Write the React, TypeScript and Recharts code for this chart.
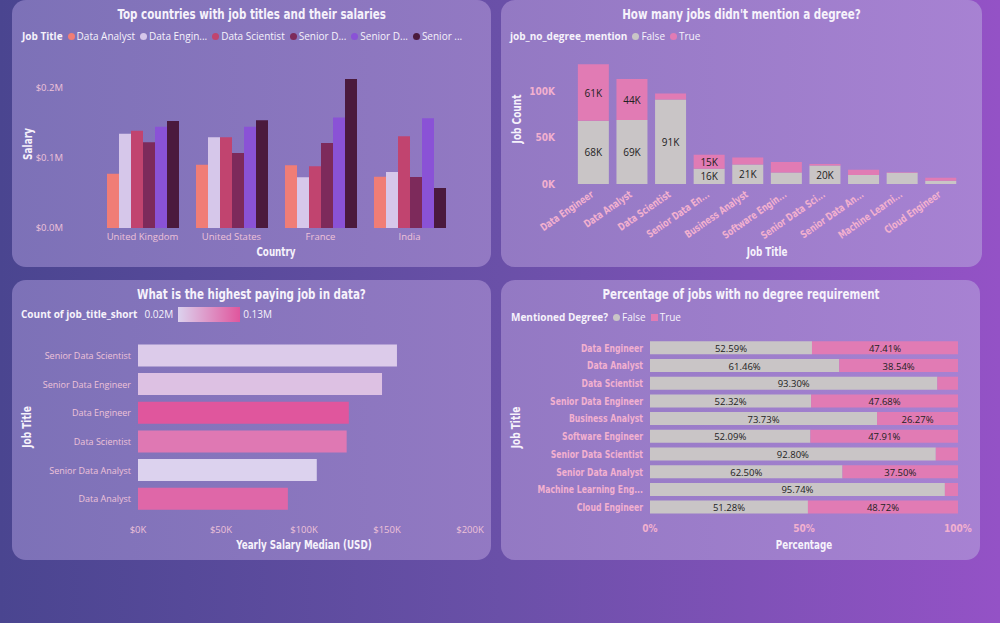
import React from 'react';
import { BarChart, Bar, XAxis, YAxis, Cell, Label, LabelList } from 'recharts';

// ---------- Data: top-left (salary by country & job title) ----------
const countries = ['United Kingdom', 'United States', 'France', 'India'];
const tlJobTitles = ['Data Analyst', 'Data Engineer', 'Data Scientist', 'Senior Data Analyst', 'Senior Data Engineer', 'Senior Data Scientist'];
const tlLegendLabels = ['Data Analyst', 'Data Engin...', 'Data Scientist', 'Senior D...', 'Senior D...', 'Senior ...'];
const salaryDataAnalyst = [77600, 90500, 89500, 73300];
const salaryDataEngineer = [134800, 129500, 72400, 80000];
const salaryDataScientist = [139000, 129500, 88100, 131000];
const salarySeniorDataAnalyst = [122400, 107000, 121400, 72900];
const salarySeniorDataEngineer = [144800, 144800, 158000, 156700];
const salarySeniorDataScientist = [152900, 153800, 212900, 57100];
const tlSalaryTicks = [0, 100000, 200000];

// ---------- Data: top-right (jobs mentioning a degree) ----------
const degreeJobTitles = ['Data Engineer', 'Data Analyst', 'Data Scientist', 'Senior Data Engineer', 'Business Analyst', 'Software Engineer', 'Senior Data Scientist', 'Senior Data Analyst', 'Machine Learning Engineer', 'Cloud Engineer'];
const degreeTickLabels = ['Data Engineer', 'Data Analyst', 'Data Scientist', 'Senior Data En...', 'Business Analyst', 'Software Engin...', 'Senior Data Sci...', 'Senior Data An...', 'Machine Learni...', 'Cloud Engineer'];
const noDegreeFalseCounts = [68000, 69000, 91000, 16400, 21000, 12400, 20000, 9600, 12000, 3500];
const noDegreeTrueCounts = [61000, 44000, 6500, 15000, 7500, 11400, 1550, 5800, 530, 3300];
const jobCountTicks = [0, 50000, 100000];

// ---------- Data: bottom-left (highest paying job) ----------
const payJobTitles = ['Senior Data Scientist', 'Senior Data Engineer', 'Data Engineer', 'Data Scientist', 'Senior Data Analyst', 'Data Analyst'];
const payMedianSalary = [156000, 147000, 127000, 125700, 107700, 90300];
const payJobCounts = [21500, 31400, 129000, 97500, 15400, 113000];
const payTicks = [0, 50000, 100000, 150000, 200000];
const payLegendMin = '0.02M';
const payLegendMax = '0.13M';

// ---------- Data: bottom-right (percentage no degree) ----------
const pctJobTitles = ['Data Engineer', 'Data Analyst', 'Data Scientist', 'Senior Data Engineer', 'Business Analyst', 'Software Engineer', 'Senior Data Scientist', 'Senior Data Analyst', 'Machine Learning Eng...', 'Cloud Engineer'];
const pctFalse = [52.59, 61.46, 93.30, 52.32, 73.73, 52.09, 92.80, 62.50, 95.74, 51.28];
const pctTrue = [47.41, 38.54, 6.70, 47.68, 26.27, 47.91, 7.20, 37.50, 4.26, 48.72];
const pctTicks = [0, 50, 100];

// ---------- Styles ----------
const tlColors = ['#f07d76', '#d6c7ea', '#c1446f', '#7d2a5b', '#8a52d6', '#4b1a3d'];
const FALSE_COLOR = '#c9c5c6';
const TRUE_COLOR = '#e17bb4';
const GRAD_LOW = [220, 210, 238];
const GRAD_HIGH = [224, 86, 157];
const FONT_TITLE = "'DejaVu Sans Condensed', 'DejaVu Sans', sans-serif";
const FONT_BODY = "'Open Sans', 'Noto Sans', sans-serif";
const NARROW = 0.82;
const PINK = '#f2b0cf';
const PINK_LIGHT = '#eec2d8';
const WHITE = '#f6f2fb';

const tlData = countries.map((c, i) => ({
  country: c,
  'Data Analyst': salaryDataAnalyst[i],
  'Data Engineer': salaryDataEngineer[i],
  'Data Scientist': salaryDataScientist[i],
  'Senior Data Analyst': salarySeniorDataAnalyst[i],
  'Senior Data Engineer': salarySeniorDataEngineer[i],
  'Senior Data Scientist': salarySeniorDataScientist[i],
}));

const trData = degreeJobTitles.map((t, i) => ({ name: t, False: noDegreeFalseCounts[i], True: noDegreeTrueCounts[i] }));
const blData = payJobTitles.map((t, i) => ({ name: t, salary: payMedianSalary[i], count: payJobCounts[i] }));
const brData = pctJobTitles.map((t, i) => ({ name: t, False: pctFalse[i], True: pctTrue[i] }));

const minCount = Math.min(...payJobCounts);
const maxCount = Math.max(...payJobCounts);
const countColor = (v: number) => {
  const t = (v - minCount) / (maxCount - minCount);
  const c = GRAD_LOW.map((lo, k) => Math.round(lo + (GRAD_HIGH[k] - lo) * t));
  return `rgb(${c[0]},${c[1]},${c[2]})`;
};

const yTitle = (text: string, dx: number) => (props: any) => {
  const vb = props.viewBox || {};
  const cx = (vb.x || 0) + dx;
  const cy = (vb.y || 0) + (vb.height || 0) / 2;
  return (
    <g transform={`translate(${cx},${cy}) rotate(-90) scale(0.8,1)`}>
      <text x={0} y={0} textAnchor="middle" dominantBaseline="central"
        fill={WHITE} fontFamily={FONT_TITLE} fontWeight={700} fontSize={12.5}>{text}</text>
    </g>
  );
};
const xTitle = (text: string, dy: number) => (props: any) => {
  const vb = props.viewBox || {};
  const cx = (vb.x || 0) + (vb.width || 0) / 2;
  const cy = (vb.y || 0) + dy;
  return (
    <g transform={`translate(${cx},${cy}) scale(0.78,1)`}>
      <text x={0} y={0} textAnchor="middle" dominantBaseline="central"
        fill={WHITE} fontFamily={FONT_TITLE} fontWeight={700} fontSize={12.5}>{text}</text>
    </g>
  );
};

const RotTick = (props: any) => {
  const { x, y, payload } = props;
  const idx = degreeJobTitles.indexOf(payload.value);
  const label = idx >= 0 ? degreeTickLabels[idx] : payload.value;
  const tx = x + 1;
  const ty = y + 12;
  return (
    <g transform={`translate(${tx},${ty}) rotate(-35) scale(${NARROW},1)`}>
      <text x={0} y={0} textAnchor="end" fill={PINK}
        fontFamily={FONT_TITLE} fontWeight={700} fontSize={10.5}>{label}</text>
    </g>
  );
};

const PlainYTick = (props: any) => {
  const { x, y, payload } = props;
  return (
    <text x={x} y={y} textAnchor="end" dominantBaseline="central" fill={PINK_LIGHT}
      fontFamily={FONT_BODY} fontSize={9}>{payload.value}</text>
  );
};
const BoldYTick = (props: any) => {
  const { x, y, payload } = props;
  return (
    <g transform={`translate(${x},${y}) scale(${NARROW},1)`}>
      <text x={0} y={0} textAnchor="end" dominantBaseline="central" fill={PINK}
        fontFamily={FONT_TITLE} fontWeight={700} fontSize={10.5}>{payload.value}</text>
    </g>
  );
};

const kLabel = (props: any) => {
  const { x, y, width, height, value } = props;
  if (height < 13) return null;
  return (
    <text x={x + width / 2} y={y + height / 2} textAnchor="middle" dominantBaseline="central" fill="#222"
      fontFamily={FONT_BODY} fontSize={10}>{`${Math.round(value / 1000)}K`}</text>
  );
};
const pctLabel = (props: any) => {
  const { x, y, width, height, value } = props;
  if (width < 30) return null;
  return (
    <text x={x + width / 2} y={y + height / 2 + 0.5} textAnchor="middle" dominantBaseline="central" fill="#222"
      fontFamily={FONT_BODY} fontSize={9.5}>{`${Number(value).toFixed(2)}%`}</text>
  );
};

const panelStyle = (left: number, top: number, width: number, height: number): React.CSSProperties => ({
  position: 'absolute', left, top, width, height, borderRadius: 14,
  background: 'linear-gradient(90deg, #7c71b7 0%, #9379c3 50%, #a882d3 100%) fixed',
  overflow: 'hidden',
});
const titleStyle = (top: number): React.CSSProperties => ({
  position: 'absolute', left: 0, right: 0, top, textAlign: 'center',
  color: WHITE, fontFamily: FONT_TITLE, fontWeight: 700, fontSize: 14, lineHeight: '18px', whiteSpace: 'nowrap',
});
const narrowSpan: React.CSSProperties = { display: 'inline-block', transform: `scaleX(${NARROW})`, transformOrigin: 'center' };
const legendRow = (top: number, left: number): React.CSSProperties => ({
  position: 'absolute', top, left, display: 'flex', alignItems: 'center', height: 16,
  fontFamily: FONT_BODY, fontSize: 10, color: WHITE, whiteSpace: 'nowrap',
});
const legendHead: React.CSSProperties = { fontWeight: 700, marginRight: 5 };
const dot = (color: string, square = false): React.CSSProperties => ({
  display: 'inline-block', width: 7, height: 7, borderRadius: square ? 0 : 4, background: color, marginRight: 2,
});

export default function App() {
  const axisTick = { fill: PINK_LIGHT, fontSize: 9.5, fontFamily: FONT_BODY };
  const boldTick = { fill: PINK, fontSize: 10, fontFamily: FONT_TITLE, fontWeight: 700 };
  return (
    <div style={{ position: 'fixed', left: 0, top: 0, width: 1000, height: 623, overflow: 'hidden',
      background: 'linear-gradient(90deg, #4a4590 0%, #6a50a8 50%, #9452c6 100%)' }}>

      {/* Top-left */}
      <div style={panelStyle(12, 0, 479, 267)}>
        <div style={titleStyle(5)}><span style={narrowSpan}>Top countries with job titles and their salaries</span></div>
        <div style={legendRow(28, 10)}>
          <span style={legendHead}>Job Title</span>
          {tlLegendLabels.map((l, i) => (
            <span key={i} style={{ display: 'flex', alignItems: 'center', marginRight: 5 }}>
              <span style={dot(tlColors[i])} />{l}
            </span>
          ))}
        </div>
        <div style={{ position: 'absolute', left: 0, top: 0 }}>
          <BarChart width={479} height={267} data={tlData} margin={{ top: 60, right: 37, bottom: 0, left: 0 }}
            barCategoryGap={9} barGap={0}>
            <XAxis dataKey="country" height={39} axisLine={false} tickLine={false} tickSize={0} tickMargin={5}
              tick={axisTick} interval={0}>
              <Label content={xTitle('Country', 24)} />
            </XAxis>
            <YAxis width={86} domain={[0, 240000]} ticks={tlSalaryTicks} axisLine={false} tickLine={false}
              tickSize={0} tickMargin={35} tick={axisTick}
              tickFormatter={(v: number) => `$${(v / 1000000).toFixed(1)}M`}>
              <Label content={yTitle('Salary', 16)} />
            </YAxis>
            {tlJobTitles.map((t, i) => (
              <Bar key={t} dataKey={t} fill={tlColors[i]} isAnimationActive={false} />
            ))}
          </BarChart>
        </div>
      </div>

      {/* Top-right */}
      <div style={panelStyle(501, 0, 481, 267)}>
        <div style={titleStyle(5)}><span style={narrowSpan}>How many jobs didn't mention a degree?</span></div>
        <div style={legendRow(28, 9)}>
          <span style={legendHead}>job_no_degree_mention</span>
          <span style={{ display: 'flex', alignItems: 'center', marginRight: 5 }}><span style={dot(FALSE_COLOR)} />False</span>
          <span style={{ display: 'flex', alignItems: 'center' }}><span style={dot(TRUE_COLOR)} />True</span>
        </div>
        <div style={{ position: 'absolute', left: 0, top: 0 }}>
          <BarChart width={481} height={267} data={trData} margin={{ top: 54, right: 22, bottom: 0, left: 0 }}
            barCategoryGap="10%">
            <XAxis dataKey="name" height={83} axisLine={false} tickLine={false} tickSize={0} tickMargin={0}
              tick={<RotTick />} interval={0}>
              <Label content={xTitle('Job Title', 68)} />
            </XAxis>
            <YAxis width={73} domain={[0, 140000]} ticks={jobCountTicks} axisLine={false} tickLine={false}
              tickSize={0} tickMargin={19} tick={boldTick}
              tickFormatter={(v: number) => `${v / 1000}K`}>
              <Label content={yTitle('Job Count', 16)} />
            </YAxis>
            <Bar dataKey="False" stackId="a" fill={FALSE_COLOR} isAnimationActive={false}>
              <LabelList dataKey="False" content={kLabel} />
            </Bar>
            <Bar dataKey="True" stackId="a" fill={TRUE_COLOR} isAnimationActive={false}>
              <LabelList dataKey="True" content={kLabel} />
            </Bar>
          </BarChart>
        </div>
      </div>

      {/* Bottom-left */}
      <div style={panelStyle(12, 280, 479, 280)}>
        <div style={titleStyle(5)}><span style={narrowSpan}>What is the highest paying job in data?</span></div>
        <div style={legendRow(26, 9)}>
          <span style={legendHead}>Count of job_title_short</span>
          <span style={{ marginLeft: 2, marginRight: 5 }}>{payLegendMin}</span>
          <span style={{ display: 'inline-block', width: 62, height: 15,
            background: `linear-gradient(90deg, rgb(${GRAD_LOW.join(',')}), rgb(${GRAD_HIGH.join(',')}))` }} />
          <span style={{ marginLeft: 3 }}>{payLegendMax}</span>
        </div>
        <div style={{ position: 'absolute', left: 0, top: 0 }}>
          <BarChart width={479} height={280} data={blData} layout="vertical"
            margin={{ top: 61, right: 21, bottom: 0, left: 0 }} barCategoryGap="12%">
            <XAxis type="number" height={47} domain={[0, 200000]} ticks={payTicks} axisLine={false} tickLine={false}
              tickSize={0} tickMargin={13} tick={axisTick} tickFormatter={(v: number) => `$${v / 1000}K`}>
              <Label content={xTitle('Yearly Salary Median (USD)', 32.5)} />
            </XAxis>
            <YAxis type="category" dataKey="name" width={126} axisLine={false} tickLine={false} tickSize={0}
              tickMargin={7} tick={<PlainYTick />} interval={0}>
              <Label content={yTitle('Job Title', 15)} />
            </YAxis>
            <Bar dataKey="salary" isAnimationActive={false}>
              {blData.map((d, i) => <Cell key={i} fill={countColor(d.count)} />)}
            </Bar>
          </BarChart>
        </div>
      </div>

      {/* Bottom-right */}
      <div style={panelStyle(501, 280, 479, 280)}>
        <div style={titleStyle(5)}><span style={narrowSpan}>Percentage of jobs with no degree requirement</span></div>
        <div style={legendRow(29, 10)}>
          <span style={legendHead}>Mentioned Degree?</span>
          <span style={{ display: 'flex', alignItems: 'center', marginRight: 5 }}><span style={dot(FALSE_COLOR)} />False</span>
          <span style={{ display: 'flex', alignItems: 'center' }}><span style={dot(TRUE_COLOR, true)} />True</span>
        </div>
        <div style={{ position: 'absolute', left: 0, top: 0 }}>
          <BarChart width={481} height={280} data={brData} layout="vertical"
            margin={{ top: 59, right: 24, bottom: 0, left: 0 }} barCategoryGap="13%">
            <XAxis type="number" height={44} domain={[0, 100]} ticks={pctTicks} axisLine={false} tickLine={false}
              tickSize={0} tickMargin={9} tick={boldTick} tickFormatter={(v: number) => `${v}%`}>
              <Label content={xTitle('Percentage', 29)} />
            </XAxis>
            <YAxis type="category" dataKey="name" width={149} axisLine={false} tickLine={false} tickSize={0}
              tickMargin={7} tick={<BoldYTick />} interval={0}>
              <Label content={yTitle('Job Title', 15)} />
            </YAxis>
            <Bar dataKey="False" stackId="p" fill={FALSE_COLOR} isAnimationActive={false}>
              <LabelList dataKey="False" content={pctLabel} />
            </Bar>
            <Bar dataKey="True" stackId="p" fill={TRUE_COLOR} isAnimationActive={false}>
              <LabelList dataKey="True" content={pctLabel} />
            </Bar>
          </BarChart>
        </div>
      </div>
    </div>
  );
}
